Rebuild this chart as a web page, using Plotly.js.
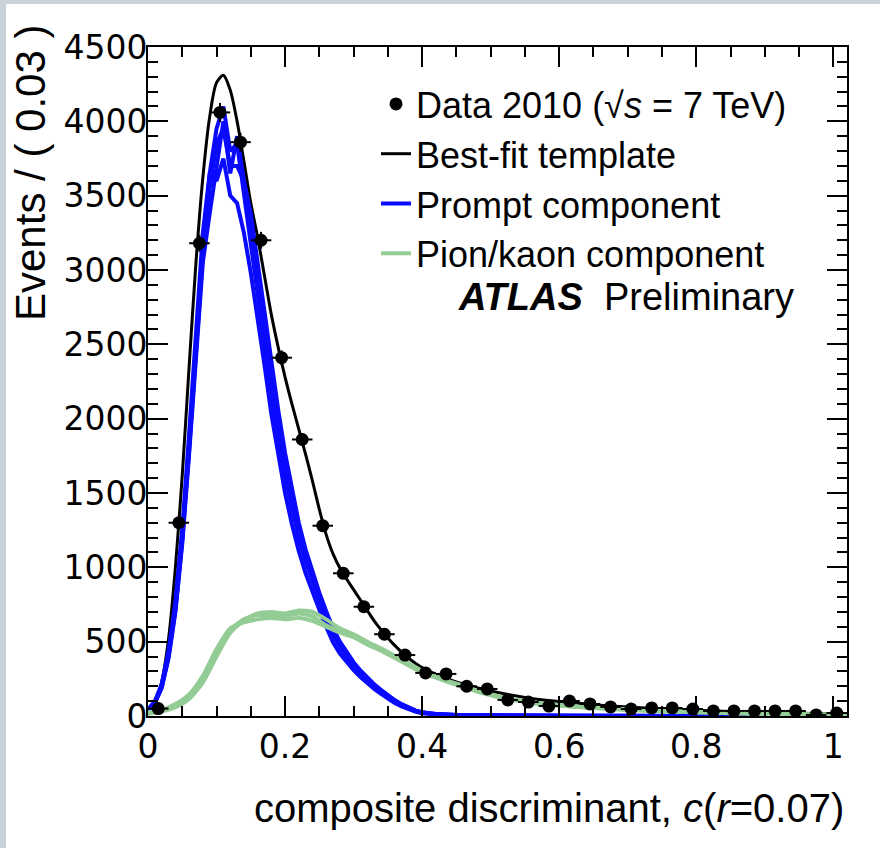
<!DOCTYPE html>
<html>
<head>
<meta charset="utf-8">
<script src="https://cdn.plot.ly/plotly-3.0.1.min.js"></script>
<style>
  html, body { margin: 0; padding: 0; background: #c8d3db; width: 880px; height: 848px; overflow: hidden; }
  #chart { position: absolute; left: 6px; top: 4px; width: 874px; height: 844px; background: #ffffff; }
</style>
</head>
<body>
<div id="chart"></div>
<script>
// ---- Data ----
const dataX = [0.015,0.045,0.075,0.105,0.135,0.165,0.195,0.225,0.255,0.285,0.315,0.345,0.375,0.405,0.435,0.465,0.495,0.525,0.555,0.585,0.615,0.645,0.675,0.705,0.735,0.765,0.795,0.825,0.855,0.885,0.915,0.945,0.975,1.005];
const dataY = [50,1300,3180,4060,3860,3200,2410,1860,1280,960,735,550,410,290,283,200,182,108,94,67,101,81,61,47,54,54,47,34,34,34,34,34,7,20];

const fitX = [0,0.01,0.02,0.03,0.04,0.05,0.06,0.07,0.08,0.09,0.10,0.11,0.12,0.13,0.14,0.15,0.16,0.17,0.18,0.19,0.20,0.21,0.22,0.23,0.24,0.25,0.26,0.27,0.28,0.29,0.30,0.31,0.32,0.33,0.34,0.35,0.36,0.37,0.38,0.39,0.40,0.42,0.44,0.46,0.48,0.50,0.55,0.60,0.65,0.70,0.75,0.80,0.85,0.90,0.95,1.00,1.02];
const fitY = [30,90,230,520,1000,1620,2350,3050,3620,4030,4260,4310,4210,4000,3730,3450,3220,2960,2700,2480,2280,2100,1930,1760,1580,1390,1220,1090,995,920,850,780,710,640,580,525,475,430,390,355,325,280,245,215,190,168,125,97,76,60,48,38,30,24,19,15,14];

const promptX = [0,0.01,0.02,0.03,0.04,0.05,0.06,0.07,0.08,0.09,0.10,0.11,0.12,0.13,0.14,0.15,0.16,0.17,0.18,0.19,0.20,0.21,0.22,0.23,0.24,0.25,0.26,0.27,0.28,0.29,0.30,0.31,0.32,0.33,0.34,0.35,0.36,0.37,0.38,0.39,0.40,0.42,0.45,0.50,0.60,0.80,1.02];
const promptA = [40,90,200,410,730,1200,1820,2520,3150,3650,3950,4100,3800,3850,3500,3200,2850,2500,2170,1900,1620,1400,1200,1040,900,780,660,550,465,395,335,283,237,197,162,127,97,72,52,34,23,12,6,3,1,0,0];
const promptB = [35,85,190,390,700,1160,1760,2450,3050,3380,3700,4000,3650,3900,3600,3300,2950,2620,2280,1990,1710,1470,1260,1090,940,810,690,575,485,410,350,296,248,206,169,133,102,76,54,36,24,13,6,3,1,0,0];
const promptC = [45,100,215,440,770,1260,1900,2620,3250,3650,3600,3750,3500,3450,3250,2980,2680,2360,2030,1760,1500,1290,1110,960,830,715,600,495,420,360,308,262,220,182,149,116,87,64,45,29,19,10,5,2,1,0,0];
const promptD = [38,90,195,400,715,1180,1790,2480,3100,3550,3850,3950,3700,3700,3600,3380,3050,2700,2360,2060,1770,1520,1300,1120,965,830,705,590,500,425,362,306,257,214,176,139,107,80,57,38,26,14,7,3,1,0,0];

const pionX = [0,0.02,0.04,0.06,0.08,0.10,0.12,0.14,0.16,0.18,0.20,0.22,0.24,0.26,0.28,0.30,0.32,0.34,0.36,0.38,0.40,0.42,0.44,0.46,0.48,0.50,0.52,0.54,0.56,0.58,0.60,0.65,0.70,0.75,0.80,0.85,0.90,0.95,1.00,1.02];
const pionA = [20,35,70,130,250,430,580,650,680,675,670,690,670,610,570,540,490,450,400,350,300,265,230,200,170,145,122,105,90,80,72,55,43,33,26,20,15,11,8,7];
const pionB = [15,30,60,115,225,400,560,640,690,700,690,710,700,650,590,550,500,455,405,355,305,268,233,203,172,147,124,107,92,81,73,56,44,34,27,21,16,12,9,8];
const pionC = [25,40,80,145,270,450,590,630,650,660,650,660,640,600,560,530,480,440,390,340,295,258,225,195,165,140,118,102,88,78,70,53,41,32,25,19,14,10,7,6];

const legendNames = ['Data 2010 (√<i>s</i> = 7 TeV)', 'Best-fit template', 'Prompt component', 'Pion/kaon component'];

// ---- Styles ----
const BLUE = '#0a0aff';
const GREEN = '#93cc95';
const FONT = 'Liberation Sans, Arial, Helvetica, sans-serif';
const TICKFONT = 'DejaVu Sans, Liberation Sans, sans-serif';

const traces = [];
traces.push({x: fitX, y: fitY, type: 'scatter', mode: 'lines', name: legendNames[1],
  line: {color: '#000000', width: 3, shape: 'spline', smoothing: 0.8}, legendrank: 2});

[promptA, promptB, promptC, promptD].forEach((arr, i) => {
  traces.push({x: promptX, y: arr, type: 'scatter', mode: 'lines', name: legendNames[2],
    legendgroup: 'prompt', showlegend: i === 0, legendrank: 3,
    line: {color: BLUE, width: 4}});
});
[pionA, pionB, pionC].forEach((arr, i) => {
  traces.push({x: pionX, y: arr, type: 'scatter', mode: 'lines', name: legendNames[3],
    legendgroup: 'pion', showlegend: i === 0, legendrank: 4,
    line: {color: GREEN, width: 4, shape: 'spline', smoothing: 0.6}});
});
traces.push({x: dataX, y: dataY, type: 'scatter', mode: 'markers', name: legendNames[0], legendrank: 1,
  marker: {color: '#000000', size: 13, symbol: 'circle'},
  error_x: {type: 'constant', value: 0.015, color: '#000000', thickness: 2, width: 0},
  error_y: {type: 'sqrt', color: '#000000', thickness: 2, width: 0}});

function px2x(p) { return (p - 148) / 699; }
function py2y(p) { return 1 - (p - 47) / 669; }

const axisCommon = {
  showline: true, linecolor: '#000000', linewidth: 2,
  mirror: 'allticks', ticks: 'inside', tickcolor: '#000000', tickwidth: 2, ticklen: 20,
  showgrid: false, zeroline: false,
  tickfont: {family: TICKFONT, size: 33, color: '#000000'}
};

const layout = {
  width: 874, height: 844,
  margin: {l: 142, r: 33, t: 43, b: 132},
  paper_bgcolor: '#ffffff', plot_bgcolor: '#ffffff',
  font: {family: FONT, color: '#000000'},
  showlegend: true,
  legend: {x: px2x(376), y: py2y(74), xanchor: 'left', yanchor: 'top',
    bgcolor: 'rgba(0,0,0,0)', font: {family: FONT, size: 36, color: '#000000'},
    traceorder: 'normal', itemwidth: 30, tracegroupgap: 0},
  xaxis: Object.assign({}, axisCommon, {range: [0, 1.02], tick0: 0, dtick: 0.2,
    ticklabelstandoff: 0,
    minor: {dtick: 0.05, tick0: 0, ticks: 'inside', ticklen: 10, tickwidth: 2, tickcolor: '#000000', showgrid: false}}),
  yaxis: Object.assign({}, axisCommon, {range: [0, 4500], tick0: 0, dtick: 500,
    ticklabelstandoff: -8,
    minor: {dtick: 100, tick0: 0, ticks: 'inside', ticklen: 10, tickwidth: 2, tickcolor: '#000000', showgrid: false}}),
  annotations: [
    {text: 'Events / ( 0.03 )', xref: 'paper', yref: 'paper', x: px2x(30), y: py2y(173),
      xanchor: 'center', yanchor: 'middle', textangle: -90, showarrow: false,
      font: {family: FONT, size: 42, color: '#000000'}},
    {text: 'composite discriminant, <i>c</i>(<i>r</i>=0.07)', xref: 'paper', yref: 'paper',
      x: px2x(846), y: py2y(808), xanchor: 'right', yanchor: 'middle', showarrow: false,
      font: {family: FONT, size: 40, color: '#000000'}},
    {text: '<b><i>ATLAS</i></b>  Preliminary', xref: 'paper', yref: 'paper',
      x: px2x(626), y: py2y(297), xanchor: 'center', yanchor: 'middle', showarrow: false,
      font: {family: FONT, size: 38, color: '#000000'}}
  ]
};

Plotly.newPlot('chart', traces, layout, {displayModeBar: false, staticPlot: true});
</script>
</body>
</html>
